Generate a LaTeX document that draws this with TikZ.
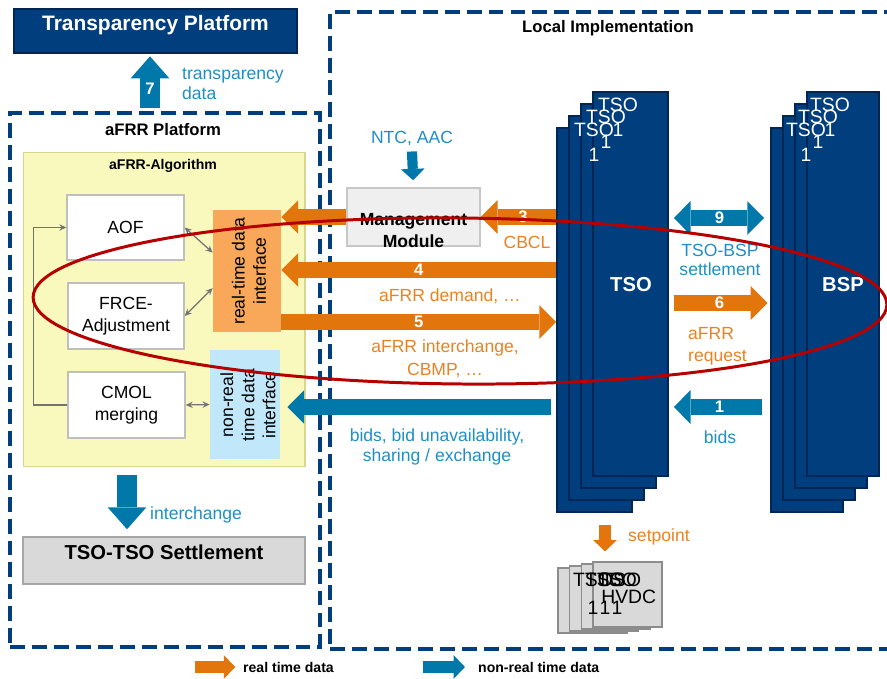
\documentclass[tikz,border=0pt]{standalone}
\usepackage{fontspec}
\setmainfont{Liberation Sans}
\usetikzlibrary{positioning,calc,arrows.meta,shapes.geometric}
\definecolor{colorNavy}{RGB}{0,62,126}
\definecolor{colorNavyLine}{RGB}{0,38,86}
\definecolor{colorRT}{RGB}{226,118,12}
\definecolor{colorRTtext}{RGB}{232,130,34}
\definecolor{colorNRT}{RGB}{0,121,170}
\definecolor{colorNRTtext}{RGB}{32,142,196}
\definecolor{colorRTif}{RGB}{248,168,88}
\definecolor{colorNRTif}{RGB}{192,232,250}
\definecolor{colorAlgo}{RGB}{249,249,190}
\definecolor{colorAlgoLine}{RGB}{214,214,140}
\definecolor{colorRing}{RGB}{182,0,0}
\definecolor{colorWire}{RGB}{115,115,115}
\definecolor{colorMgmt}{RGB}{239,239,239}
\definecolor{colorSettle}{RGB}{217,217,217}
\definecolor{colorHv}{RGB}{217,217,217}
\tikzset{
   bigtip/.tip={Triangle[length=9.6pt 0 0,width=19.3pt 0 0,line width=0pt 0 0]},
   midtip/.tip={Triangle[length=12.5pt 0 0,width=22pt 0 0,line width=0pt 0 0]},
   smalltip/.tip={Triangle[length=6.5pt 0 0,width=13.5pt 0 0,line width=0pt 0 0]},
   wiretip/.tip={Stealth[length=4pt,width=3.6pt]},
   rt/.style={draw=colorRT,line width=9.6pt,-bigtip},
   nrt/.style={draw=colorNRT,line width=9.6pt,-bigtip},
   midarr/.style={line width=11.5pt,-midtip},
   smallarr/.style={line width=7.2pt,-smalltip},
   wire/.style={draw=colorWire,line width=0.7pt},
   platbox/.style={draw=colorNavy,line width=2.3pt,dash pattern=on 8.5pt off 4pt,inner sep=0},
   navybox/.style={draw=colorNavyLine,fill=colorNavy,line width=0.8pt,inner sep=0},
   algobox/.style={draw=colorAlgoLine,fill=colorAlgo,line width=0.6pt,inner sep=0},
   modbox/.style={draw=black!25,fill=white,line width=0.8pt,inner sep=0,align=center,font=\fontsize{10}{12.5}\selectfont},
   rtif/.style={fill=colorRTif,inner sep=0},
   nrtif/.style={fill=colorNRTif,inner sep=0},
   mgmtbox/.style={draw=black!22,fill=colorMgmt,line width=0.8pt,inner sep=0},
   settlebox/.style={draw=black!35,fill=colorSettle,line width=0.8pt,inner sep=0},
   stk/.style={draw=colorNavyLine,fill=colorNavy,line width=1pt,minimum width=1.5cm,minimum height=7.68cm,inner sep=0},
   bstk/.style={stk,minimum width=1.44cm},
   hv/.style={draw=black!45,fill=colorHv,line width=0.6pt,minimum width=1.38cm,minimum height=1.3cm,inner sep=0},
   titletext/.style={font=\bfseries\fontsize{9.5}{11}\selectfont},
   bigtitle/.style={text=white,font=\bfseries\fontsize{11.9}{14}\selectfont},
   subtitle/.style={font=\bfseries\fontsize{8}{10}\selectfont},
   boldtext/.style={align=center,font=\bfseries\fontsize{10}{12.5}\selectfont},
   iftext/.style={align=center,font=\fontsize{10}{12}\selectfont},
   rttext/.style={text=colorRTtext,font=\fontsize{10}{13}\selectfont},
   nrttext/.style={text=colorNRTtext,font=\fontsize{10}{11.3}\selectfont},
   num/.style={text=white,inner sep=0,font=\bfseries\fontsize{9.5}{11}\selectfont},
   stklab/.style={text=white,anchor=north,align=center,inner sep=0,font=\fontsize{11}{14.2}\selectfont},
   stkname/.style={text=white,font=\bfseries\fontsize{11.5}{13}\selectfont},
   hvlab/.style={anchor=north,align=center,inner sep=0,font=\fontsize{11}{15.9}\selectfont},
   lgtext/.style={font=\bfseries\fontsize{8}{10}\selectfont},
   ring/.style={ellipse,draw=colorRing,line width=1.7pt,inner sep=0,minimum width=17.08cm,minimum height=3.32cm,rotate=-0.5},
}

\begin{document}
\begin{tikzpicture}[x=0.02cm,y=-0.02cm]
    \useasboundingbox (0,0) rectangle (887,679);
    \clip (0,0) rectangle (887,679);

    \node[platbox,minimum width=6.2cm,minimum height=10.68cm] (afrrplat) at (165,380) {};
    \node[platbox,minimum width=11.4cm,minimum height=12.74cm] (local) at (615,330.5) {};
    \node[titletext] (afrrplat-t) at (163,130) {aFRR Platform};
    \node[titletext] (local-t) at (608,28) {Local Implementation};

    \node[navybox,minimum width=5.66cm,minimum height=0.88cm] (transp) at (155.5,31) {};
    \node[bigtitle] (transp-t) at (155.5,25) {Transparency Platform};
    \coordinate (a7) at (150,108);
    \draw[nrt,midarr,shorten >=1.5pt] (a7) -- (a7 |- transp.south) node[num,pos=0.36] {7};
    \node[nrttext,anchor=west,align=left] (transp-d) at (176,84) {transparency\\data};

    \node[algobox,minimum width=5.64cm,minimum height=6.3cm] (algo) at (164,309.5) {};
    \node[subtitle] (algo-t) at (163,166) {aFRR-Algorithm};
    \node[modbox,minimum width=2.34cm,minimum height=1.3cm] (aof) at (125.5,227.5) {AOF};
    \node[modbox,minimum width=2.32cm,minimum height=1.32cm] (frce) at (126,316) {FRCE-\\Adjustment};
    \node[modbox,minimum width=2.34cm,minimum height=1.32cm] (cmol) at (126.5,405) {CMOL\\merging};
    \node[rtif,minimum width=1.36cm,minimum height=2.44cm] (rtif) at (247,271) {};
    \node[iftext,rotate=90] (rtif-t) at (249,271) {real-time data\\interface};
    \node[nrtif,minimum width=1.4cm,minimum height=2.18cm] (nrtif) at (245,404.5) {};
    \node[iftext,rotate=90] (nrtif-t) at (248,405) {non-real\\time data\\interface};

    \draw[wire,-wiretip] (cmol.west) -- ++(-34,0) |- (aof.west);
    \draw[wire,wiretip-wiretip] (aof.east) -- ($(rtif.north west)!0.35!(rtif.south west)$);
    \draw[wire,wiretip-wiretip] (frce.east) -- ($(rtif.north west)!0.64!(rtif.south west)$);
    \draw[wire,wiretip-wiretip] (cmol.east) -- (nrtif.west);

    \coordinate (ic) at (127,475);
    \node[settlebox,minimum width=5.64cm,minimum height=0.94cm] (settle) at (164,560.5) {};
    \node[titletext,font=\bfseries\fontsize{11.5}{13}\selectfont] (settle-t) at (164,552) {TSO-TSO Settlement};
    \draw[nrt,midarr,shorten >=4pt] (ic) -- (ic |- settle.north);
    \node[nrttext,anchor=west] (ic-t) at (144,515) {interchange};

    \node[stk] (tsoD) at (594.5,320) {};
    \node[stk] (tsoC) at (606.5,308) {};
    \node[stk] (tsoB) at (618.5,296) {};
    \node[stk] (tsoA) at (630.5,284) {};
    \node[stklab] (tsoA-t) at (618,98) {TSO\\1};
    \node[stklab] (tsoB-t) at (606,110) {TSO\\1};
    \node[stklab] (tsoC-t) at (594,123) {TSO\\1};
    \node[stkname] (tso) at (631,285) {TSO};

    \node[bstk] (bspD) at (807,320) {};
    \node[bstk] (bspC) at (819,308) {};
    \node[bstk] (bspB) at (831,296) {};
    \node[bstk] (bspA) at (843,284) {};
    \node[stklab] (bspA-t) at (830,98) {TSO\\1};
    \node[stklab] (bspB-t) at (818,110) {TSO\\1};
    \node[stklab] (bspC-t) at (806,123) {TSO\\1};
    \node[stkname] (bsp) at (843,285) {BSP};

    \node[nrttext] (ntc) at (412,138) {NTC, AAC};
    \node[mgmtbox,minimum width=2.66cm,minimum height=1.16cm] (mgmt) at (413.5,217) {};
    \node[boldtext] (mgmt-t) at (413.5,231) {Management\\Module};
    \draw[nrt,smallarr,line width=5.8pt,shorten >=4pt] (ntc.south) -- (mgmt.north);

    \coordinate (y4) at (0,270);
    \coordinate (y5) at (0,322);
    \coordinate (yb) at (0,407);
    \coordinate (y9) at (0,218);
    \coordinate (y6) at (0,303);
    \coordinate (y1) at (0,407);

    \draw[rt] (mgmt.west) -- (rtif.east |- mgmt.west);
    \draw[rt] (tsoD.west |- mgmt.east) -- (mgmt.east) node[num,pos=0.44] {3};
    \draw[rt] (tsoD.west |- y4) -- (rtif.east |- y4) node[num,midway] {4};
    \draw[rt] (rtif.east |- y5) -- (tsoD.west |- y5) node[num,midway] {5};
    \draw[nrt,shorten <=2.8pt,shorten >=4pt] (tsoD.west |- yb) -- (nrtif.east |- yb);
    \draw[nrt,bigtip-bigtip,shorten <=2.8pt,shorten >=3.4pt] (tsoA.east |- y9) -- (bspD.west |- y9) node[num,midway] {9};
    \draw[rt,shorten <=2.8pt,shorten >=1.5pt] (tsoA.east |- y6) -- (bspD.west |- y6) node[num,midway] {6};
    \draw[nrt,shorten <=4.5pt,shorten >=2.8pt] (bspD.west |- y1) -- (tsoA.east |- y1) node[num,midway] {1};

    \node[rttext] (cbcl) at (527,242) {CBCL};
    \node[rttext] (demand) at (450,296) {aFRR demand, …};
    \node[rttext,align=center] (interch) at (445,359) {aFRR interchange,\\CBMP, …};
    \node[nrttext,align=center] (bidtxt) at (437,447) {bids, bid unavailability,\\sharing / exchange};
    \node[nrttext,align=center] (tbs) at (720,260) {TSO-BSP\\settlement};
    \node[rttext,anchor=west,align=left,font=\fontsize{10}{12.5}\selectfont] (req) at (682,346) {aFRR\\request};
    \node[nrttext] (bids) at (720,437) {bids};

    \node[hv] (hvD) at (592.5,600.5) {};
    \node[hv] (hvC) at (604.2,598.5) {};
    \node[hv] (hvB) at (615.8,596.5) {};
    \node[hv] (hvA) at (627.5,594.5) {};
    \node[hvlab] (hvD-t) at (593,573) {TSO\\1};
    \node[hvlab] (hvC-t) at (605,573) {TSO\\1};
    \node[hvlab] (hvB-t) at (617,573) {TSO\\1};
    \node[hvlab,anchor=north west,align=left,font=\fontsize{11}{9.2}\selectfont] (hvA-t) at (601,573) {TSO\\HVDC};
    \coordinate (sp) at (605,525);
    \draw[rt,smallarr,shorten >=5.7pt] (sp) -- (sp |- hvA.north);
    \node[rttext,anchor=west] (sp-t) at (622,537) {setpoint};

    \coordinate (lg1) at (195,667);
    \node[lgtext,anchor=west] (lg1-t) at (237,667) {real time data};
    \draw[rt,smallarr,shorten >=1pt] (lg1) -- (lg1-t.west);
    \coordinate (lg2) at (423,667);
    \node[lgtext,anchor=west] (lg2-t) at (472,667) {non-real time data};
    \draw[nrt,smallarr,shorten >=4pt] (lg2) -- (lg2-t.west);

    \node[ring] (ring) at (460,301) {};
\end{tikzpicture}
\end{document}
